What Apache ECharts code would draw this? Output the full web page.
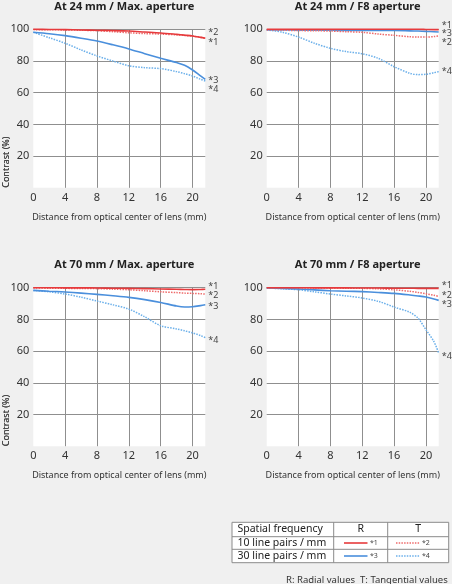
<!DOCTYPE html>
<html><head><meta charset="utf-8">
<script src="https://cdn.jsdelivr.net/npm/echarts@6/dist/echarts.min.js"></script>
<style>html,body{margin:0;padding:0;background:#f0f0f0}#c{width:452px;height:584px}</style>
</head><body><div id="c"></div>
<script>
// ---- data ----
const titles = ['At 24 mm / Max. aperture', 'At 24 mm / F8 aperture', 'At 70 mm / Max. aperture', 'At 70 mm / F8 aperture'];
const distance = [0, 2, 4, 6, 8, 10, 12, 14, 16, 18, 19, 20, 21, 21.6];
const xTickLabels = [0, 4, 8, 12, 16, 20];
const yTickLabels = [20, 40, 60, 80, 100];
const seriesTags = ['*1', '*2', '*3', '*4'];

const w24maxR10 = [100, 99.9, 99.8, 99.6, 99.4, 99.2, 98.9, 98.3, 97.7, 96.8, 96.3, 95.8, 94.9, 94.3];
const w24maxT10 = [99.8, 99.7, 99.6, 99.4, 99.1, 98.5, 97.8, 97.3, 97.0, 96.5, 96.1, 95.7, 95.0, 94.5];
const w24maxR30 = [98.1, 97.2, 96.0, 94.4, 92.6, 90.2, 87.6, 84.6, 81.7, 79.0, 77.3, 74.3, 70.6, 68.4];
const w24maxT30 = [98.1, 94.7, 91.2, 87.0, 83.2, 80.0, 77.0, 75.8, 75.2, 73.3, 72.0, 70.5, 68.5, 67.4];

const w24f8R10 = [100, 100, 100, 100, 100, 100, 100, 100, 100, 100, 100, 99.9, 99.8, 99.8];
const w24f8T10 = [99.6, 99.4, 99.2, 99.1, 98.9, 98.5, 98.1, 97.0, 96.2, 95.3, 95.1, 95.1, 95.4, 95.8];
const w24f8R30 = [99.6, 99.6, 99.5, 99.5, 99.4, 99.3, 99.3, 99.2, 99.2, 99.0, 98.9, 98.7, 98.5, 98.3];
const w24f8T30 = [99.6, 98.1, 95.1, 91.2, 88.0, 85.9, 84.6, 81.7, 76.4, 72.2, 71.4, 71.6, 72.6, 73.3];

const t70maxR10 = [100, 100, 99.9, 99.9, 99.8, 99.7, 99.6, 99.4, 99.2, 99.0, 98.9, 98.8, 98.9, 99.0];
const t70maxT10 = [99.8, 99.7, 99.6, 99.5, 99.4, 99.1, 98.7, 98.1, 97.4, 96.9, 96.6, 96.4, 96.2, 96.0];
const t70maxR30 = [98.3, 97.8, 97.3, 96.6, 95.8, 94.9, 93.9, 92.5, 90.7, 88.4, 87.8, 88.0, 88.7, 89.2];
const t70maxT30 = [98.3, 97.4, 96.0, 94.0, 91.6, 89.2, 86.5, 81.6, 76.0, 74.0, 72.8, 71.5, 69.8, 68.5];

const t70f8R10 = [100, 100, 100, 99.9, 99.9, 99.9, 99.8, 99.8, 99.7, 99.7, 99.6, 99.6, 99.6, 99.6];
const t70f8T10 = [100, 100, 99.9, 99.8, 99.8, 99.7, 99.6, 99.3, 98.7, 97.7, 97.0, 96.2, 95.2, 94.5];
const t70f8R30 = [99.8, 99.5, 99.2, 98.6, 98.1, 97.8, 97.5, 97.0, 96.4, 95.4, 94.8, 94.1, 92.9, 92.0];
const t70f8T30 = [99.8, 99.3, 98.7, 97.4, 96.0, 94.8, 93.5, 91.4, 87.8, 84.4, 80.8, 73.5, 66.0, 58.7];

const tableHeader = ['Spatial frequency', 'R', 'T'];
const tableRows = ['10 line pairs / mm', '30 line pairs / mm'];
const footnote = 'R: Radial values  T: Tangential values';

// ---- layout / style ----
const FONT = '"Noto Sans", "Open Sans", sans-serif';
const panels = [
  { left: 33.3, top: 29.3, values: [w24maxR10, w24maxT10, w24maxR30, w24maxT30], labelDy: [3.7, -5.9, 0.6, 8] },
  { left: 266.7, top: 29.3, values: [w24f8R10, w24f8T10, w24f8R30, w24f8T30], labelDy: [-4.6, 6.7, 1.3, 0.1] },
  { left: 33.3, top: 287.7, values: [t70maxR10, t70maxT10, t70maxR30, t70maxT30], labelDy: [-2.6, 1.7, 1.2, 2.4] },
  { left: 266.7, top: 287.7, values: [t70f8R10, t70f8T10, t70f8R30, t70f8T30], labelDy: [-2.6, -1.4, 3.9, 2.8] }
];
const GW = 172, GH = 158.5;
const lineStyles = [
  { color: '#e63a3c', width: 1.6, type: 'solid' },
  { color: '#ee6b6b', width: 1.5, type: [1.5, 1.2] },
  { color: '#4a8fdc', width: 1.6, type: 'solid' },
  { color: '#6cb0ea', width: 1.5, type: [1.5, 1.2] }
];

const grid = [], xAxis = [], yAxis = [], series = [], title = [], graphic = [];
panels.forEach((p, i) => {
  grid.push({ left: p.left, top: p.top, width: GW, height: GH, show: true, backgroundColor: '#fff', borderWidth: 0 });
  title.push({ text: titles[i], left: p.left + GW / 2, top: p.top - 33, textAlign: 'center',
    textStyle: { fontSize: 11, fontWeight: 'bold', color: '#222', fontFamily: FONT } });
  xAxis.push({ type: 'value', gridIndex: i, min: 0, max: 21.6, interval: 4,
    name: 'Distance from optical center of lens (mm)', nameLocation: 'middle', nameGap: 25,
    nameTextStyle: { fontSize: 9, color: '#333', fontFamily: FONT },
    axisLine: { show: false }, axisTick: { show: false },
    axisLabel: { margin: 4.5, fontSize: 11, color: '#333', fontFamily: FONT, showMaxLabel: false,
      formatter: v => (xTickLabels.indexOf(v) >= 0 ? String(v) : '') },
    splitLine: { show: true, showMinLine: false, showMaxLine: false, lineStyle: { color: '#8f8f8f', width: 1 } } });
  yAxis.push({ type: 'value', gridIndex: i, min: 0, max: 100, interval: 20,
    axisLine: { show: false }, axisTick: { show: false },
    axisLabel: { margin: 4, fontSize: 11, color: '#333', fontFamily: FONT,
      formatter: v => (yTickLabels.indexOf(v) >= 0 ? String(v) : '') },
    splitLine: { show: true, showMinLine: false, showMaxLine: true, lineStyle: { color: '#8f8f8f', width: 1 } } });
  graphic.push({ type: 'text', x: 6.5, y: p.top + GH, rotation: Math.PI / 2,
    style: { text: 'Contrast (%)', fill: '#444', font: 'normal 400 9px ' + FONT, align: 'left', verticalAlign: 'middle' } });
  p.values.forEach((vals, k) => {
    const ls = lineStyles[k];
    series.push({ type: 'line', xAxisIndex: i, yAxisIndex: i, clip: false,
      data: distance.map((d, j) => [d, vals[j]]),
      smooth: 0.3, showSymbol: false, symbol: 'none', silent: true,
      lineStyle: { color: ls.color, width: ls.width, type: ls.type },
      z: 4 - k,
      endLabel: { show: true, formatter: seriesTags[k], distance: 3, offset: [0, p.labelDy[k]],
        fontSize: 9, color: '#444', fontFamily: FONT } });
  });
});

// ---- table legend ----
const TX = 232, TY = 522.3, TW = 216.7;
const rowY = [522.3, 536.7, 549.3, 562.7];
const colX = [232, 333.7, 387.7, 448.7];
const TFONT = '10.5px ' + FONT;
graphic.push({ type: 'rect', shape: { x: TX, y: TY, width: TW, height: rowY[3] - TY },
  style: { fill: '#fff', stroke: '#8a8a8a', lineWidth: 1 } });
[rowY[1], rowY[2]].forEach(y => graphic.push({ type: 'line', shape: { x1: TX, y1: y, x2: TX + TW, y2: y }, style: { stroke: '#8a8a8a', lineWidth: 1 } }));
[colX[1], colX[2]].forEach(x => graphic.push({ type: 'line', shape: { x1: x, y1: TY, x2: x, y2: rowY[3] }, style: { stroke: '#8a8a8a', lineWidth: 1 } }));
const rowMid = r => (rowY[r] + rowY[r + 1]) / 2;
graphic.push({ type: 'text', x: 237.5, y: rowMid(0), style: { text: tableHeader[0], fill: '#222', font: TFONT, align: 'left', verticalAlign: 'middle' } });
graphic.push({ type: 'text', x: (colX[1] + colX[2]) / 2, y: rowMid(0), style: { text: tableHeader[1], fill: '#222', font: TFONT, align: 'center', verticalAlign: 'middle' } });
graphic.push({ type: 'text', x: (colX[2] + colX[3]) / 2, y: rowMid(0), style: { text: tableHeader[2], fill: '#222', font: TFONT, align: 'center', verticalAlign: 'middle' } });
tableRows.forEach((t, r) => {
  const y = rowMid(r + 1);
  graphic.push({ type: 'text', x: 237.5, y: y, style: { text: t, fill: '#222', font: TFONT, align: 'left', verticalAlign: 'middle' } });
  [0, 1].forEach(c => {
    const ls = lineStyles[r * 2 + c];
    const x0 = c === 0 ? 344 : 396;
    graphic.push({ type: 'line', shape: { x1: x0, y1: y, x2: x0 + 23.5, y2: y },
      style: { stroke: ls.color, lineWidth: ls.width, lineDash: ls.type === 'solid' ? null : ls.type } });
    graphic.push({ type: 'text', x: x0 + 26, y: y, style: { text: seriesTags[r * 2 + c], fill: '#444', font: '7px ' + FONT, align: 'left', verticalAlign: 'middle' } });
  });
});
graphic.push({ type: 'text', x: 447.7, y: 580.5, style: { text: footnote, fill: '#333', font: '9.5px ' + FONT, align: 'right', verticalAlign: 'middle' } });

const chart = echarts.init(document.getElementById('c'), null, { renderer: 'canvas' });
chart.setOption({ backgroundColor: '#f0f0f0', animation: false, title, grid, xAxis, yAxis, series, graphic });
</script></body></html>
